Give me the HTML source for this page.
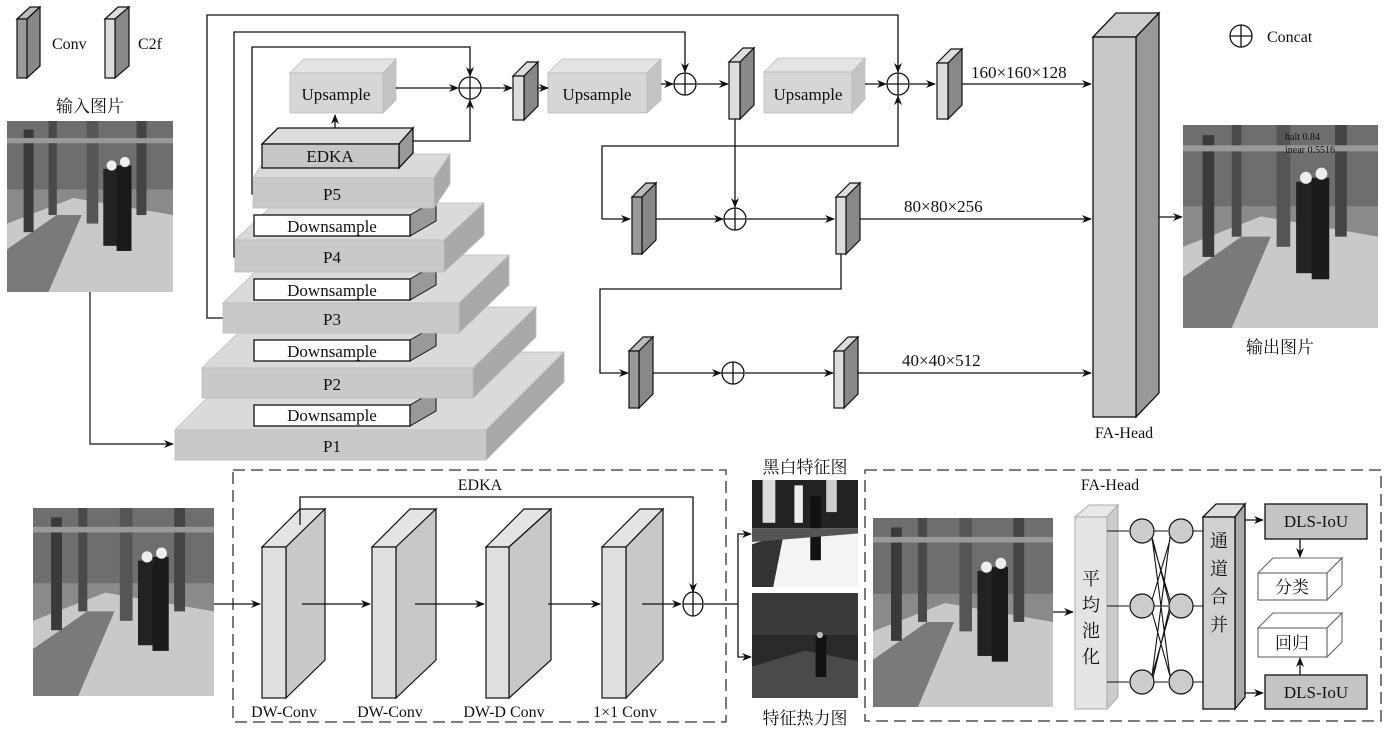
<!DOCTYPE html>
<html><head><meta charset="utf-8"><style>
html,body{margin:0;padding:0;background:#fff;}
svg{display:block;}
text{font-family:"Liberation Serif","Noto Serif CJK SC",serif;fill:#111;}
</style></head><body>
<svg width="1386" height="729" viewBox="0 0 1386 729" xmlns="http://www.w3.org/2000/svg">
<defs>
<marker id="a" markerWidth="10" markerHeight="8" refX="9" refY="4" orient="auto" markerUnits="userSpaceOnUse">
<path d="M0,0 L10,4 L0,8 L3,4 z" fill="#111"/></marker>
<symbol id="photo" viewBox="0 0 100 100" preserveAspectRatio="none">
<rect width="100" height="100" fill="#8a8a8a"/>
<rect x="0" y="0" width="100" height="40" fill="#6e6e6e"/>
<polygon points="0,100 0,60 40,45 100,55 100,100" fill="#c9c9c9"/>
<polygon points="0,100 0,75 30,55 45,55 25,100" fill="#7a7a7a"/>
<rect x="10" y="5" width="6" height="60" fill="#3a3a3a"/>
<rect x="25" y="0" width="5" height="55" fill="#4a4a4a"/>
<rect x="48" y="0" width="7" height="60" fill="#555"/>
<rect x="78" y="0" width="6" height="55" fill="#444"/>
<rect x="58" y="28" width="9" height="45" fill="#222"/>
<rect x="66" y="26" width="9" height="50" fill="#1a1a1a"/>
<circle cx="63" cy="26" r="3" fill="#eee"/><circle cx="71" cy="24" r="3" fill="#eee"/>
<rect x="0" y="10" width="100" height="3" fill="#999"/>
</symbol>
<symbol id="bw" viewBox="0 0 100 100" preserveAspectRatio="none">
<rect width="100" height="100" fill="#f4f4f4"/>
<rect x="0" y="0" width="100" height="45" fill="#222"/>
<rect x="10" y="0" width="12" height="40" fill="#ddd"/>
<rect x="40" y="5" width="8" height="35" fill="#eee"/>
<rect x="70" y="0" width="10" height="30" fill="#ccc"/>
<rect x="55" y="15" width="10" height="60" fill="#111"/>
<polygon points="0,60 30,50 20,100 0,100" fill="#333"/>
<polygon points="0,45 100,45 100,50 0,58" fill="#555"/>
</symbol>
<symbol id="heat" viewBox="0 0 100 100" preserveAspectRatio="none">
<rect width="100" height="100" fill="#2a2a2a"/>
<rect x="0" y="0" width="100" height="40" fill="#3a3a3a"/>
<polygon points="0,100 0,70 50,55 100,65 100,100" fill="#4a4a4a"/>
<rect x="60" y="40" width="10" height="40" fill="#111"/>
<circle cx="64" cy="40" r="3" fill="#bbb"/>
</symbol>
</defs>

<!-- legend -->
<polygon points="17,19 30,7 40,7 27,19" fill="#bbb" stroke="#111" stroke-width="1.2"/>
<polygon points="27,19 40,7 40,66 27,78" fill="#888" stroke="#111" stroke-width="1.2"/>
<rect x="17" y="19" width="10" height="59" fill="#999" stroke="#111" stroke-width="1.2"/>
<text x="52" y="49" font-size="16">Conv</text>
<polygon points="105,19 118,7 129,7 115,19" fill="#ddd" stroke="#111" stroke-width="1.2"/>
<polygon points="115,19 129,7 129,66 115,78" fill="#888" stroke="#111" stroke-width="1.2"/>
<rect x="105" y="19" width="10" height="59" fill="#ddd" stroke="#111" stroke-width="1.2"/>
<text x="138" y="49" font-size="16">C2f</text>
<text x="90" y="112" font-size="17" text-anchor="middle">输入图片</text>
<use href="#photo" x="7" y="121" width="166" height="171"/>
<polyline points="90,292 90,444 173,444" fill="none" stroke="#111" stroke-width="1.2" marker-end="url(#a)"/>

<!-- long skip lines -->
<g fill="none" stroke="#111" stroke-width="1.3">
<polyline points="223,318 207,318 207,15 898,15 898,72" marker-end="url(#a)"/>
<polyline points="235,257 234,257 234,32 685,32 685,72" marker-end="url(#a)"/>
<polyline points="253,194 252,194 252,47 470,47 470,76" marker-end="url(#a)"/>
<polyline points="413,141 470,141 470,100" marker-end="url(#a)"/>
<line x1="335" y1="128" x2="335" y2="115" marker-end="url(#a)"/>
</g>

<!-- pyramid -->
<g stroke="#bbb" stroke-width="0.8">
<polygon points="175,430 253,352 564,352 486,430" fill="#dadada"/>
<polygon points="486,430 564,352 564,382 486,460" fill="#a9a9a9"/>
<rect x="175" y="430" width="311" height="30" fill="#c9c9c9"/>
</g>
<polygon points="410,405 436,390 436,411 410,426" fill="#999" stroke="#111"/>
<rect x="254" y="405" width="156" height="21" fill="#fff" stroke="#111" stroke-width="1.3"/>
<text x="332" y="421" font-size="17" text-anchor="middle">Downsample</text>
<g stroke="#bbb" stroke-width="0.8">
<polygon points="202,368 265,307 536,307 473,368" fill="#dadada"/>
<polygon points="473,368 536,307 536,337 473,398" fill="#a9a9a9"/>
<rect x="202" y="368" width="271" height="30" fill="#c9c9c9"/>
</g>
<polygon points="410,340 436,325 436,346 410,361" fill="#999" stroke="#111"/>
<rect x="254" y="340" width="156" height="21" fill="#fff" stroke="#111" stroke-width="1.3"/>
<text x="332" y="357" font-size="17" text-anchor="middle">Downsample</text>
<g stroke="#bbb" stroke-width="0.8">
<polygon points="223,303 273,255 509,255 459,303" fill="#dadada"/>
<polygon points="459,303 509,255 509,285 459,333" fill="#a9a9a9"/>
<rect x="223" y="303" width="236" height="30" fill="#c9c9c9"/>
</g>
<polygon points="410,279 436,264 436,285 410,300" fill="#999" stroke="#111"/>
<rect x="254" y="279" width="156" height="21" fill="#fff" stroke="#111" stroke-width="1.3"/>
<text x="332" y="296" font-size="17" text-anchor="middle">Downsample</text>
<g stroke="#bbb" stroke-width="0.8">
<polygon points="235,240 275,203 484,203 444,240" fill="#dadada"/>
<polygon points="444,240 484,203 484,235 444,272" fill="#a9a9a9"/>
<rect x="235" y="240" width="209" height="32" fill="#c9c9c9"/>
</g>
<polygon points="410,215 436,200 436,221 410,236" fill="#999" stroke="#111"/>
<rect x="254" y="215" width="156" height="21" fill="#fff" stroke="#111" stroke-width="1.3"/>
<text x="332" y="232" font-size="17" text-anchor="middle">Downsample</text>
<text x="332" y="263" font-size="17" text-anchor="middle">P4</text>
<text x="332" y="325" font-size="17" text-anchor="middle">P3</text>
<text x="332" y="390" font-size="17" text-anchor="middle">P2</text>
<text x="332" y="452" font-size="17" text-anchor="middle">P1</text>
<g stroke="#bbb" stroke-width="0.8">
<polygon points="253,178 269,154 450,154 434,178" fill="#dadada"/>
<polygon points="434,178 450,154 450,184 434,208" fill="#a9a9a9"/>
<rect x="253" y="178" width="181" height="30" fill="#c9c9c9"/>
</g>
<text x="332" y="200" font-size="17" text-anchor="middle">P5</text>
<polygon points="262,144 278,128 413,128 399,144" fill="#ddd" stroke="#111" stroke-width="1.3"/>
<polygon points="399,144 413,128 413,153 399,168" fill="#999" stroke="#111" stroke-width="1.3"/>
<rect x="262" y="144" width="137" height="24" fill="#c6c6c6" stroke="#111" stroke-width="1.3"/>
<text x="330" y="162" font-size="17" text-anchor="middle">EDKA</text>

<!-- upsample boxes -->
<g stroke="#bbb" stroke-width="0.8">
<polygon points="290,73 304,59 396,59 383,73" fill="#e4e4e4"/>
<polygon points="383,73 396,59 396,100 383,113" fill="#c4c4c4"/>
<rect x="290" y="73" width="93" height="40" fill="#d6d6d6"/>
<polygon points="548,73 562,59 661,59 647,73" fill="#e4e4e4"/>
<polygon points="647,73 661,59 661,100 647,113" fill="#c4c4c4"/>
<rect x="548" y="73" width="99" height="40" fill="#d6d6d6"/>
<polygon points="764,72 778,58 865,58 852,72" fill="#e4e4e4"/>
<polygon points="852,72 865,58 865,99 852,113" fill="#c4c4c4"/>
<rect x="764" y="72" width="88" height="41" fill="#d6d6d6"/>
</g>
<text x="336" y="100" font-size="17" text-anchor="middle">Upsample</text>
<text x="597" y="100" font-size="17" text-anchor="middle">Upsample</text>
<text x="808" y="100" font-size="17" text-anchor="middle">Upsample</text>

<!-- connections top area -->
<g fill="none" stroke="#111" stroke-width="1.3">
<line x1="396" y1="88" x2="458" y2="88" marker-end="url(#a)"/>
<line x1="480" y1="88" x2="512" y2="88" marker-end="url(#a)"/>
<line x1="532" y1="88" x2="548" y2="88" marker-end="url(#a)"/>
<line x1="661" y1="84" x2="673" y2="84" marker-end="url(#a)"/>
<line x1="697" y1="84" x2="728" y2="84" marker-end="url(#a)"/>
<line x1="865" y1="84" x2="886" y2="84" marker-end="url(#a)"/>
<line x1="910" y1="84" x2="935" y2="84" marker-end="url(#a)"/>
<line x1="948" y1="84" x2="1091" y2="84" marker-end="url(#a)"/>
<line x1="735" y1="119" x2="735" y2="207" marker-end="url(#a)"/>
<polyline points="602,219 602,146 898,146 898,96" marker-end="url(#a)"/>
<polyline points="602,219 630,219" marker-end="url(#a)"/>
<line x1="645" y1="219" x2="723" y2="219" marker-end="url(#a)"/>
<line x1="747" y1="219" x2="834" y2="219" marker-end="url(#a)"/>
<line x1="848" y1="219" x2="1091" y2="219" marker-end="url(#a)"/>
<polyline points="841,254 841,289 600,289 600,373 628,373" marker-end="url(#a)"/>
<line x1="645" y1="373" x2="721" y2="373" marker-end="url(#a)"/>
<line x1="745" y1="373" x2="833" y2="373" marker-end="url(#a)"/>
<line x1="846" y1="373" x2="1091" y2="373" marker-end="url(#a)"/>
<line x1="1159" y1="217" x2="1182" y2="217" marker-end="url(#a)"/>
</g>
<!-- concat circles -->
<g fill="#fff" stroke="#111" stroke-width="1.3">
<circle cx="470" cy="88" r="11"/><path d="M459,88h22M470,77v22"/>
<circle cx="685" cy="84" r="11"/><path d="M674,84h22M685,73v22"/>
<circle cx="898" cy="84" r="11"/><path d="M887,84h22M898,73v22"/>
<circle cx="735" cy="219" r="11"/><path d="M724,219h22M735,208v22"/>
<circle cx="733" cy="373" r="11"/><path d="M722,373h22M733,362v22"/>
<circle cx="1241" cy="36" r="11"/><path d="M1230,36h22M1241,25v22"/>
</g>
<text x="1267" y="42" font-size="16">Concat</text>

<g stroke="#111" stroke-width="1.2">
<polygon points="513,76 527,62 538,62 524,76" fill="#ddd"/><polygon points="524,76 538,62 538,106 524,120" fill="#888"/><rect x="513" y="76" width="11" height="44" fill="#ddd"/>
<polygon points="729,62 743,48 754,48 740,62" fill="#ddd"/><polygon points="740,62 754,48 754,105 740,119" fill="#888"/><rect x="729" y="62" width="11" height="57" fill="#ddd"/>
<polygon points="937,63 951,49 962,49 948,63" fill="#ddd"/><polygon points="948,63 962,49 962,105 948,119" fill="#888"/><rect x="937" y="63" width="11" height="56" fill="#ddd"/>
<polygon points="632,197 646,183 656,183 642,197" fill="#bbb"/><polygon points="642,197 656,183 656,240 642,254" fill="#888"/><rect x="632" y="197" width="10" height="57" fill="#999"/>
<polygon points="836,197 850,183 860,183 846,197" fill="#ddd"/><polygon points="846,197 860,183 860,240 846,254" fill="#888"/><rect x="836" y="197" width="10" height="57" fill="#ddd"/>
<polygon points="629,351 643,337 653,337 639,351" fill="#bbb"/><polygon points="639,351 653,337 653,394 639,408" fill="#888"/><rect x="629" y="351" width="10" height="57" fill="#999"/>
<polygon points="834,351 848,337 858,337 844,351" fill="#ddd"/><polygon points="844,351 858,337 858,394 844,408" fill="#888"/><rect x="834" y="351" width="10" height="57" fill="#ddd"/>
</g>
<text x="971" y="78" font-size="17">160×160×128</text>
<text x="904" y="212" font-size="17">80×80×256</text>
<text x="902" y="366" font-size="17">40×40×512</text>

<!-- FA-Head big -->
<g stroke="#111" stroke-width="1.3">
<polygon points="1093,37 1116,13 1159,13 1136,37" fill="#ccc"/>
<polygon points="1136,37 1159,13 1159,393 1136,417" fill="#999"/>
<rect x="1093" y="37" width="43" height="380" fill="#c8c8c8"/>
</g>
<text x="1124" y="438" font-size="16" text-anchor="middle">FA-Head</text>
<use href="#photo" x="1183" y="125" width="195" height="203"/>
<text x="1285" y="140" font-size="10" font-family="Liberation Mono" fill="#111">halt 0.84</text>
<text x="1285" y="153" font-size="10" font-family="Liberation Mono" fill="#111">inear 0.5516</text>
<text x="1280" y="353" font-size="17" text-anchor="middle">输出图片</text>

<!-- bottom EDKA -->
<use href="#photo" x="33" y="508" width="181" height="188"/>
<rect x="233" y="470" width="493" height="252" fill="none" stroke="#333" stroke-width="1.3" stroke-dasharray="12,6"/>
<text x="480" y="490" font-size="16" text-anchor="middle">EDKA</text>
<g stroke="#111" stroke-width="1.2">
<polygon points="262,547 300,509 325,509 286,547" fill="#e4e4e4"/><polygon points="286,547 325,509 325,660 286,698" fill="#c8c8c8"/><rect x="262" y="547" width="24" height="151" fill="#e0e0e0"/>
<polygon points="372,547 410,509 436,509 396,547" fill="#e4e4e4"/><polygon points="396,547 436,509 436,660 396,698" fill="#c8c8c8"/><rect x="372" y="547" width="24" height="151" fill="#e0e0e0"/>
<polygon points="486,547 524,509 551,509 509,547" fill="#e4e4e4"/><polygon points="509,547 551,509 551,660 509,698" fill="#c8c8c8"/><rect x="486" y="547" width="23" height="151" fill="#e0e0e0"/>
<polygon points="602,547 640,509 663,509 626,547" fill="#e4e4e4"/><polygon points="626,547 663,509 663,660 626,698" fill="#c8c8c8"/><rect x="602" y="547" width="24" height="151" fill="#e0e0e0"/>
</g>
<g fill="none" stroke="#111" stroke-width="1.3">
<line x1="214" y1="604" x2="260" y2="604" marker-end="url(#a)"/>
<line x1="302" y1="604" x2="370" y2="604" marker-end="url(#a)"/>
<line x1="415" y1="604" x2="484" y2="604" marker-end="url(#a)"/>
<line x1="548" y1="604" x2="600" y2="604" marker-end="url(#a)"/>
<line x1="642" y1="604" x2="681" y2="604" marker-end="url(#a)"/>
<polyline points="300,525 300,497 693,497 693,592" marker-end="url(#a)"/>
<line x1="704" y1="604" x2="738" y2="604"/>
<polyline points="738,604 738,534 751,534" marker-end="url(#a)"/>
<polyline points="738,604 738,657 751,657" marker-end="url(#a)"/>
</g>
<ellipse cx="693" cy="604" rx="10" ry="12" fill="#fff" stroke="#111" stroke-width="1.3"/>
<path d="M683,604h20M693,592v24" stroke="#111" stroke-width="1.3"/>
<text x="284" y="717" font-size="16" text-anchor="middle">DW-Conv</text>
<text x="390" y="717" font-size="16" text-anchor="middle">DW-Conv</text>
<text x="504" y="717" font-size="16" text-anchor="middle">DW-D  Conv</text>
<text x="625" y="717" font-size="16" text-anchor="middle">1×1  Conv</text>
<text x="805" y="473" font-size="17" text-anchor="middle">黑白特征图</text>
<use href="#bw" x="752" y="480" width="106" height="107"/>
<use href="#heat" x="752" y="593" width="106" height="105"/>
<text x="805" y="724" font-size="17" text-anchor="middle">特征热力图</text>

<!-- bottom FA-Head -->
<rect x="865" y="470" width="516" height="251" fill="none" stroke="#333" stroke-width="1.3" stroke-dasharray="12,6"/>
<text x="1110" y="490" font-size="16" text-anchor="middle">FA-Head</text>
<use href="#photo" x="873" y="518" width="180" height="189"/>
<line x1="1053" y1="612" x2="1073" y2="612" stroke="#111" stroke-width="1.3" marker-end="url(#a)"/>
<g stroke="#aaa" stroke-width="1">
<polygon points="1075,517 1089,505 1118,505 1107,517" fill="#e8e8e8"/>
<polygon points="1107,517 1118,505 1118,697 1107,709" fill="#ccc"/>
<rect x="1075" y="517" width="32" height="192" fill="#e4e4e4"/>
</g>
<text x="1091" y="585" font-size="18" text-anchor="middle">平</text>
<text x="1091" y="611" font-size="18" text-anchor="middle">均</text>
<text x="1091" y="637" font-size="18" text-anchor="middle">池</text>
<text x="1091" y="663" font-size="18" text-anchor="middle">化</text>
<g fill="none" stroke="#111" stroke-width="1.1">
<path d="M1107,531h22M1107,606h22M1107,682h22M1154,531h14M1154,606h14M1154,682h14M1193,531h10M1193,606h10M1193,682h10"/>
<path d="M1152,537 L1170,676 M1152,676 L1170,537 M1152,540 L1170,600 M1152,600 L1170,540 M1152,612 L1170,676 M1152,676 L1170,612 M1152,537 L1170,606 M1152,682 L1170,606"/>
</g>
<g fill="#ccc" stroke="#111" stroke-width="1.2">
<circle cx="1142" cy="531" r="12"/><circle cx="1142" cy="606" r="12"/><circle cx="1142" cy="682" r="12"/>
<circle cx="1181" cy="531" r="12"/><circle cx="1181" cy="606" r="12"/><circle cx="1181" cy="682" r="12"/>
</g>
<g stroke="#111" stroke-width="1.3">
<polygon points="1203,517 1216,504 1245,504 1235,517" fill="#ddd"/>
<polygon points="1235,517 1245,504 1245,697 1235,709" fill="#aaa"/>
<rect x="1203" y="517" width="32" height="192" fill="#d0d0d0"/>
</g>
<text x="1219" y="547" font-size="18" text-anchor="middle">通</text>
<text x="1219" y="575" font-size="18" text-anchor="middle">道</text>
<text x="1219" y="603" font-size="18" text-anchor="middle">合</text>
<text x="1219" y="631" font-size="18" text-anchor="middle">并</text>
<g fill="none" stroke="#111" stroke-width="1.3">
<line x1="1245" y1="520" x2="1263" y2="520" marker-end="url(#a)"/>
<line x1="1245" y1="693" x2="1263" y2="693" marker-end="url(#a)"/>
<line x1="1300" y1="539" x2="1300" y2="557" marker-end="url(#a)"/>
<line x1="1300" y1="675" x2="1300" y2="658" marker-end="url(#a)"/>
</g>
<rect x="1265" y="504" width="102" height="35" fill="#c4c4c4" stroke="#111" stroke-width="1.3"/>
<text x="1316" y="527" font-size="17" text-anchor="middle">DLS-IoU</text>
<rect x="1265" y="675" width="102" height="34" fill="#c4c4c4" stroke="#111" stroke-width="1.3"/>
<text x="1316" y="698" font-size="17" text-anchor="middle">DLS-IoU</text>
<g fill="#fff" stroke="#666" stroke-width="1.1">
<polygon points="1258,573 1273,558 1342,558 1327,573"/><polygon points="1327,573 1342,558 1342,585 1327,600"/><rect x="1258" y="573" width="69" height="27"/>
<polygon points="1258,628 1273,613 1342,613 1327,628"/><polygon points="1327,628 1342,613 1342,642 1327,657"/><rect x="1258" y="628" width="69" height="29"/>
</g>
<text x="1292" y="593" font-size="17" text-anchor="middle">分类</text>
<text x="1292" y="649" font-size="17" text-anchor="middle">回归</text>
</svg>
</body></html>
